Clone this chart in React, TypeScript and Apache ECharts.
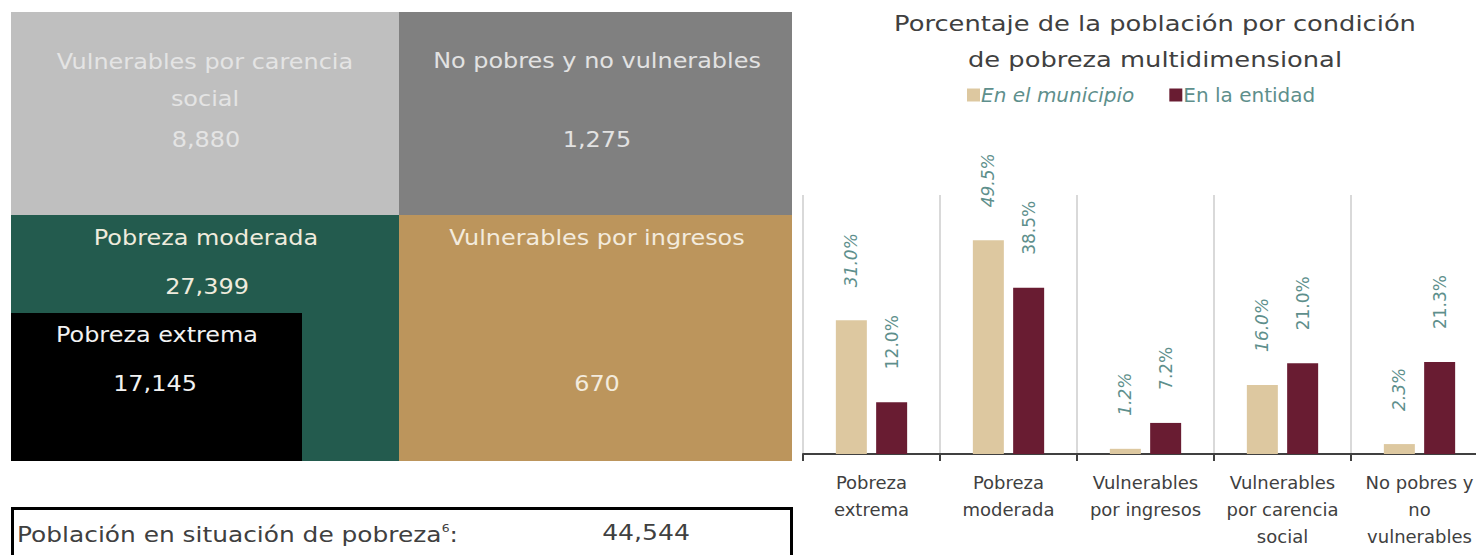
import React, { useEffect, useRef } from "react";
import * as echarts from "echarts";

const categories = [
  "Pobreza\nextrema",
  "Pobreza\nmoderada",
  "Vulnerables\npor ingresos",
  "Vulnerables\npor carencia\nsocial",
  "No pobres y\nno\nvulnerables",
];
const municipio = [31.0, 49.5, 1.2, 16.0, 2.3];
const entidad = [12.0, 38.5, 7.2, 21.0, 21.3];
const seriesNames = ["En el municipio", "En la entidad"];

const boxNames = [
  "Vulnerables por carencia\nsocial",
  "No pobres y no vulnerables",
  "Pobreza moderada",
  "Vulnerables por ingresos",
  "Pobreza extrema",
];
const boxValues = ["8,880", "1,275", "27,399", "670", "17,145"];
const totalLabel = "Población en situación de pobreza";
const totalValue = "44,544";

const FONT = "DejaVu Sans";
const LABEL_COLOR = "#5E8F8C";
const SX = 1.14;

export default function App() {
  const ref = useRef<HTMLDivElement>(null);
  useEffect(() => {
    if (!ref.current) return;
    const chart = echarts.init(ref.current, undefined, { renderer: "svg" });

    const boxTxt = (x: number, y: number, text: string, color: string, size = 21, lh = 37) => ({
      type: "text",
      x,
      y,
      scaleX: SX,
      style: {
        text,
        fill: color,
        fontSize: size,
        fontFamily: FONT,
        textAlign: "center",
        textVerticalAlign: "middle",
        verticalAlign: "middle",
        align: "center",
        lineHeight: lh,
      },
      z: 10,
    });

    const graphic: any[] = [
      { type: "rect", shape: { x: 11, y: 12, width: 388, height: 203 }, style: { fill: "#BFBFBF" } },
      { type: "rect", shape: { x: 399, y: 12, width: 393, height: 203 }, style: { fill: "#808080" } },
      { type: "rect", shape: { x: 11, y: 215, width: 388, height: 246 }, style: { fill: "#235B4E" } },
      { type: "rect", shape: { x: 399, y: 215, width: 393, height: 246 }, style: { fill: "#BC955C" } },
      { type: "rect", shape: { x: 11, y: 313, width: 291, height: 148 }, style: { fill: "#000000" } },
      boxTxt(205, 80, boxNames[0], "#E4E4E4"),
      boxTxt(206, 140, boxValues[0], "#E4E4E4"),
      boxTxt(597, 61, boxNames[1], "#E2E2E2"),
      boxTxt(597, 140, boxValues[1], "#E2E2E2"),
      boxTxt(206, 238, boxNames[2], "#EFEBDD"),
      boxTxt(207, 287, boxValues[2], "#EFEBDD"),
      boxTxt(597, 238, boxNames[3], "#F3EBDD"),
      boxTxt(597, 384, boxValues[3], "#F3EBDD"),
      boxTxt(157, 335, boxNames[4], "#F2F2F2"),
      boxTxt(155, 384, boxValues[4], "#F2F2F2"),
      {
        type: "rect",
        shape: { x: 12.5, y: 508.5, width: 779, height: 70 },
        style: { fill: "none", stroke: "#000000", lineWidth: 3 },
      },
      {
        type: "text",
        x: 17,
        y: 535,
        scaleX: 1.13,
        style: {
          text: `{a|${totalLabel}}{s|6}{a|:}`,
          verticalAlign: "middle",
          textVerticalAlign: "middle",
          rich: {
            a: { fontSize: 22, fontFamily: FONT, fill: "#404040", color: "#404040" },
            s: { fontSize: 11, fontFamily: FONT, fill: "#404040", color: "#404040", padding: [0, 0, 14, 0] },
          },
        },
      },
      {
        type: "text",
        x: 646,
        y: 533,
        scaleX: SX,
        style: {
          text: totalValue,
          fill: "#404040",
          fontSize: 22,
          fontFamily: FONT,
          textAlign: "center",
          align: "center",
          verticalAlign: "middle",
          textVerticalAlign: "middle",
        },
      },
      {
        type: "text",
        x: 1155,
        y: 42,
        scaleX: 1.17,
        style: {
          text: "Porcentaje de la población por condición\nde pobreza multidimensional",
          fill: "#404040",
          fontSize: 22,
          fontFamily: FONT,
          lineHeight: 36,
          textAlign: "center",
          align: "center",
          verticalAlign: "middle",
          textVerticalAlign: "middle",
        },
      },
    ];

    const labelBase = {
      show: true,
      position: "top",
      rotate: 90,
      align: "left",
      verticalAlign: "middle",
      distance: 33,
      fontSize: 17,
      fontFamily: FONT,
      color: LABEL_COLOR,
    };

    chart.setOption({
      animation: false,
      graphic,
      legend: {
        data: seriesNames,
        left: 962,
        top: 80,
        itemWidth: 13,
        itemHeight: 13,
        itemGap: 35,
        icon: "rect",
        formatter: (n: string) => (n === seriesNames[0] ? `{i|${n}}` : `{n|${n}}`),
        textStyle: {
          padding: [0, 0, 0, -4],
          rich: {
            i: { fontSize: 20, fontStyle: "italic", fontFamily: FONT, color: LABEL_COLOR },
            n: { fontSize: 20, fontFamily: FONT, color: LABEL_COLOR },
          },
        },
      },
      grid: { left: 803, top: 195, width: 685, height: 259, containLabel: false },
      xAxis: {
        type: "category",
        data: categories,
        axisLine: { lineStyle: { color: "#404040", width: 2 } },
        axisTick: { show: true, interval: 0, length: 7, lineStyle: { color: "#404040", width: 2 } },
        splitLine: { show: true, interval: 0, lineStyle: { color: "#D9D9D9", width: 2 } },
        axisLabel: {
          interval: 0,
          fontSize: 18,
          lineHeight: 27,
          margin: 15,
          color: "#404040",
          fontFamily: FONT,
        },
      },
      yAxis: {
        type: "value",
        min: 0,
        max: 60,
        show: false,
        splitLine: { show: false },
      },
      series: [
        {
          name: seriesNames[0],
          type: "bar",
          data: municipio,
          barWidth: 31,
          barGap: "30%",
          itemStyle: { color: "#DDC8A0" },
          label: { ...labelBase, fontStyle: "italic", formatter: (p: any) => `${p.value.toFixed(1)}%` },
        },
        {
          name: seriesNames[1],
          type: "bar",
          data: entidad,
          barWidth: 31,
          itemStyle: { color: "#691C32" },
          label: { ...labelBase, formatter: (p: any) => `${p.value.toFixed(1)}%` },
        },
      ],
    });
    return () => chart.dispose();
  }, []);

  return (
    <div style={{ position: "absolute", left: 0, top: 0, width: 1476, height: 555, overflow: "hidden", background: "#ffffff" }}>
      <div ref={ref} style={{ position: "absolute", left: 0, top: 0, width: 1500, height: 555 }} />
    </div>
  );
}
